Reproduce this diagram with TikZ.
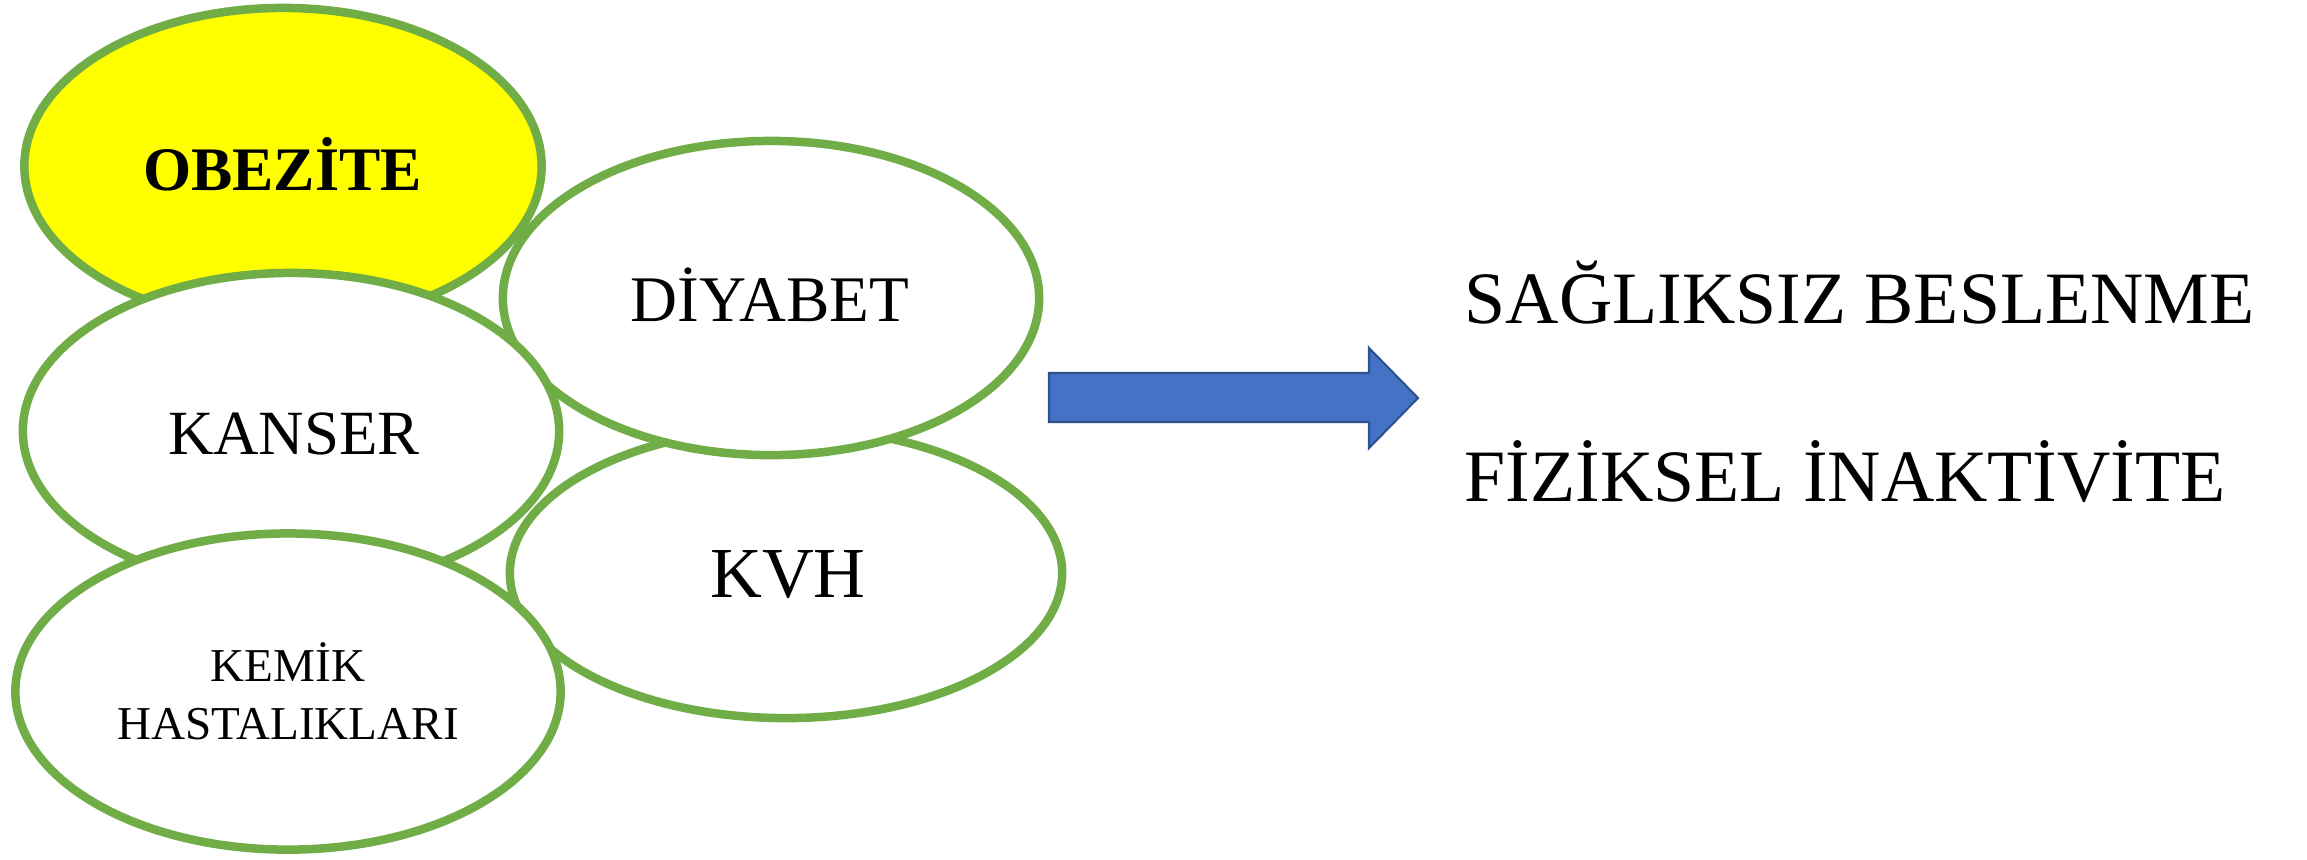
\documentclass[tikz,border=0pt]{standalone}
\usepackage{fontspec}
\setmainfont{Liberation Serif}
\usetikzlibrary{shapes.geometric}

\definecolor{leafgreen}{HTML}{70AD47}
\definecolor{sunyellow}{HTML}{FFFF00}
\definecolor{arrowblue}{HTML}{4472C4}
\definecolor{arrowedge}{HTML}{2F528F}

\begin{document}
\begin{tikzpicture}[
			x=0.01cm, y=-0.01cm,
			bubble/.style={draw=leafgreen, line width=0.085cm, ellipse, fill=white, inner sep=0pt},
			bubbletext/.style={anchor=base, inner sep=0pt},
			sidetext/.style={anchor=base west, inner sep=0pt, font=\fontsize{21}{25}\selectfont},
			blockarrow/.style={fill=arrowblue, draw=arrowedge, line width=0.6pt},
		]

		\useasboundingbox (0,0) rectangle (2307,859);

		\node[bubble, minimum width=5.52cm, minimum height=2.9cm] (kvh) at (786,573) {};
		\node[bubble, minimum width=5.36cm, minimum height=3.14cm] (diyabet) at (771,298) {};
		\node[bubble, fill=sunyellow, minimum width=5.17cm, minimum height=3.16cm] (obezite) at (283,166) {};
		\node[bubble, minimum width=5.36cm, minimum height=3.16cm] (kanser) at (291,431) {};
		\node[bubble, minimum width=5.45cm, minimum height=3.16cm] (kemik) at (288,691.5) {};

		\node[bubbletext, font=\bfseries\fontsize{17.6}{20}\selectfont] (obezitetext) at (282.5,190) {OBEZİTE};
		\node[bubbletext, font=\fontsize{18.5}{22}\selectfont] (diyabettext) at (770,321) {DİYABET};
		\node[bubbletext, font=\fontsize{17.9}{21}\selectfont] (kansertext) at (294,454) {KANSER};
		\node[bubbletext, font=\fontsize{20.4}{24}\selectfont] (kvhtext) at (788,597) {KVH};
		\node[bubbletext, font=\fontsize{13.4}{16.6}\selectfont, align=center, anchor=center] (kemiktext) at (288,691) {KEMİK\\HASTALIKLARI};

		\draw[blockarrow] (1049,373) -- (1369,373) -- (1369,348) -- (1418,398) -- (1369,448) -- (1369,422) -- (1049,422) -- cycle;

		\node[sidetext] (beslenme) at (1464,323) {SAĞLIKSIZ BESLENME};
		\node[sidetext] (inaktivite) at (1464,501) {FİZİKSEL İNAKTİVİTE};

		\end{tikzpicture}
\end{document}
